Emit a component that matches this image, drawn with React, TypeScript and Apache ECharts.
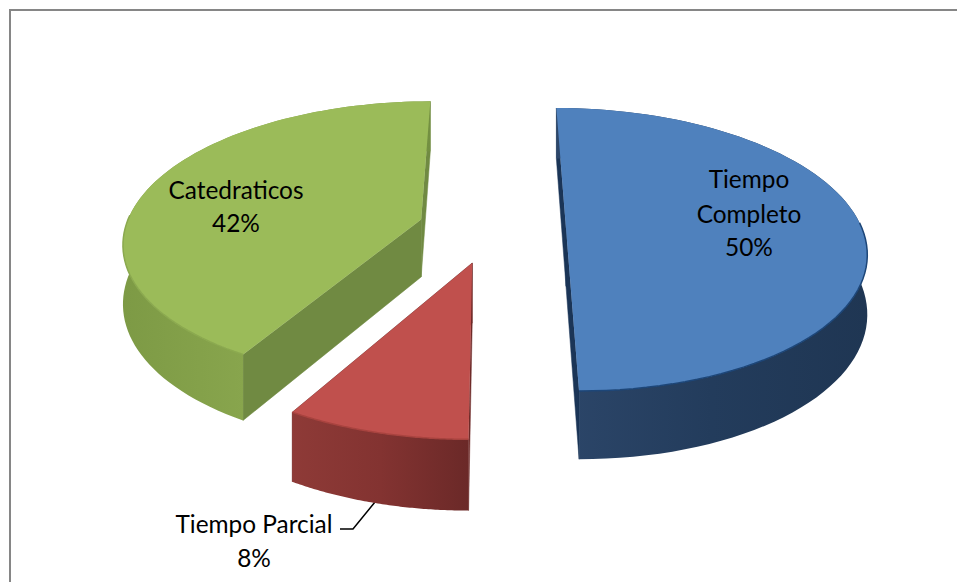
import React, { useEffect, useRef } from "react";
import * as echarts from "echarts";

const sliceNames = ["Tiempo\nCompleto", "Tiempo Parcial", "Catedraticos"];
const sliceValues = [50, 8.3, 41.7];
const topColors = ["#4F81BD", "#C0504D", "#9BBB59"];
const faceColors = ["#1B3557", "#6E2A28", "#708A42"];
const edgeColors = ["#1D4678", "#A8433F", "#8BA94F"];
const rimStops = [
  ["#2C4669", "#233C5C", "#1F3653"],
  ["#8E3A37", "#833331", "#6B2928"],
  ["#7D9A45", "#8BA84F", "#738F41"],
];

const CX = 492, CY = 228.3, RX = 296, RY = 138.3, PERSP = 0.15, DEPTH = 58, EXPLODE = 0.25;
const TAU = Math.PI * 2;
const total = sliceValues.reduce((a, b) => a + b, 0);

function project(x: number, z: number, h: number) {
  const s = 1 / (1 + PERSP * z);
  return [CX + RX * x * s, CY - RY * z * s + DEPTH * h * s];
}

function renderSlice(params: any, api: any) {
  const i = params.dataIndex;
  const before = sliceValues.slice(0, i).reduce((a, b) => a + b, 0);
  const a0 = (before / total) * TAU;
  const a1 = a0 + (api.value(0) / total) * TAU;
  const mid = (a0 + a1) / 2;
  const ox = EXPLODE * Math.sin(mid);
  const oz = EXPLODE * Math.cos(mid);
  const n = 80;
  const rim: number[][] = [];
  const frontRim: number[][] = [];
  for (let j = 0; j <= n; j++) {
    const t = a0 + ((a1 - a0) * j) / n;
    const p = [ox + Math.sin(t), oz + Math.cos(t)];
    rim.push(p);
    if (Math.cos(t) < 0.05) frontRim.push(p);
  }
  const at = (p: number[], h: number) => project(p[0], p[1], h);
  const c = [ox, oz];
  const first = rim[0];
  const last = rim[n];
  const face = (p: number[]) => ({
    type: "polygon",
    shape: { points: [at(c, 0), at(p, 0), at(p, 1), at(c, 1)] },
    style: { fill: faceColors[i], stroke: faceColors[i], lineWidth: 0.5 },
  });
  const stops = rimStops[i];
  const grad = new echarts.graphic.LinearGradient(0, 0, 1, 0, [
    { offset: 0, color: stops[0] },
    { offset: 0.5, color: stops[1] },
    { offset: 1, color: stops[2] },
  ]);
  return {
    type: "group",
    children: [
      face(first),
      face(last),
      {
        type: "polygon",
        shape: { points: [...rim.map((p) => at(p, 0)), ...rim.slice().reverse().map((p) => at(p, 1))] },
        style: { fill: grad },
      },
      {
        type: "polygon",
        shape: { points: [at(c, 0), ...rim.map((p) => at(p, 0))] },
        style: { fill: topColors[i] },
      },
      {
        type: "polyline",
        shape: { points: frontRim.map((p) => at(p, 0)) },
        style: { stroke: edgeColors[i], lineWidth: 1.5, fill: "none" },
      },
    ],
  };
}

const labelFont = { fontFamily: "Lato", fontSize: 24.4, fill: "#000000", textAlign: "center", textVerticalAlign: "middle" };

export default function App() {
  const ref = useRef<HTMLDivElement>(null);
  useEffect(() => {
    document.body.style.margin = "0";
    const chart = echarts.init(ref.current!, undefined, { renderer: "svg" });
    const text = (s: string, x: number, y: number) => ({
      type: "text",
      x,
      y,
      silent: true,
      z: 10,
      style: { ...labelFont, text: s },
    });
    const pct = (v: number) => Math.round(v) + "%";
    chart.setOption({
      animation: false,
      backgroundColor: "#ffffff",
      series: [
        {
          type: "custom",
          coordinateSystem: "none",
          silent: true,
          renderItem: renderSlice,
          data: sliceValues.map((v) => [v]),
        },
      ],
      graphic: [
        { type: "line", shape: { x1: 10, y1: 10, x2: 957, y2: 10 }, style: { stroke: "#868686", lineWidth: 2 } },
        { type: "line", shape: { x1: 10, y1: 9, x2: 10, y2: 582 }, style: { stroke: "#868686", lineWidth: 2 } },
        { type: "polyline", shape: { points: [[340, 529], [353, 529], [375, 502]] }, style: { stroke: "#000000", lineWidth: 1.5, fill: "none" } },
        text(sliceNames[0].split("\n")[0], 749, 178),
        text(sliceNames[0].split("\n")[1], 749, 213),
        text(pct(sliceValues[0]), 749, 246),
        text(sliceNames[2], 236, 189),
        text(pct(sliceValues[2]), 236, 222),
        text(sliceNames[1], 254, 523),
        text(pct(sliceValues[1]), 254, 557),
      ],
    });
    return () => chart.dispose();
  }, []);
  return <div ref={ref} style={{ width: 957, height: 582 }} />;
}
